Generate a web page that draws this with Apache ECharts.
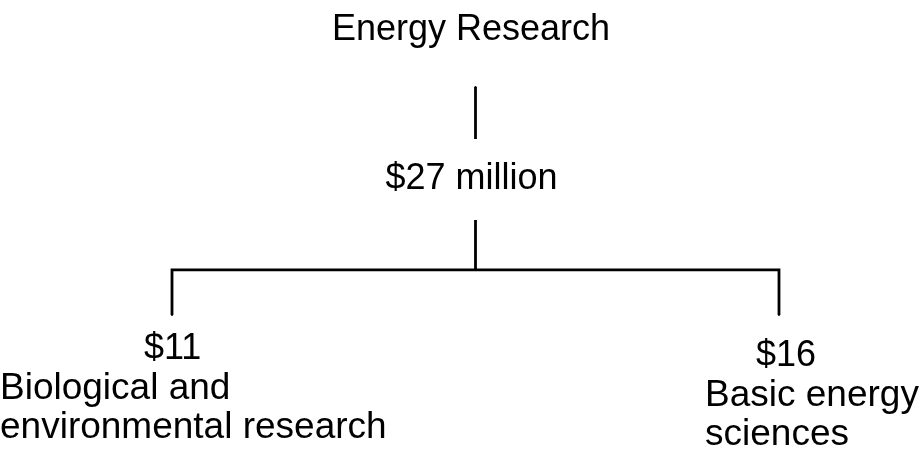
<!DOCTYPE html>
<html>
<head>
<meta charset="utf-8">
<script src="https://cdn.jsdelivr.net/npm/echarts@6/dist/echarts.min.js"></script>
<style>
  html, body { margin: 0; padding: 0; background: #fff; }
  #chart { width: 924px; height: 462px; }
</style>
</head>
<body>
<div id="chart"></div>
<script>
// ---- data ----
const rootName = 'Energy Research';
const totalValue = 27;
const totalUnit = 'million';
const categories = ['Biological and\nenvironmental research', 'Basic energy\nsciences'];
const values = [11, 16];

// ---- styles ----
const FONT = '"Liberation Sans", Arial, Helvetica, sans-serif';
const leafLabelStyles = [
  { distance: 13.5, offset: [-172, 0], pad: 144 },
  { distance: 20, offset: [-74, 0], pad: 51 }
];

function leafFormatter(p) {
  const lines = p.name.split('\n').map(s => '{t|' + s + '}');
  return '{v|$' + p.value + '}\n' + lines.join('\n');
}

const treeData = [{
  name: rootName,
  label: {
    position: 'top', distance: 37.5, offset: [-4.5, 0],
    formatter: '{a|{b}}',
    rich: { a: { fontSize: 36, lineHeight: 36, fontFamily: FONT, color: '#000' } }
  },
  children: [{
    name: '$' + totalValue + ' ' + totalUnit,
    value: totalValue,
    label: {
      position: 'inside', offset: [-4, -21.5],
      formatter: '{b}',
      fontSize: 36, lineHeight: 36, fontFamily: FONT, color: '#000',
      backgroundColor: '#fff',
      padding: [18.5, 12, 26.5, 12]
    },
    children: categories.map((c, i) => ({
      name: c,
      value: values[i],
      label: {
        position: 'bottom',
        distance: leafLabelStyles[i].distance,
        offset: leafLabelStyles[i].offset,
        align: 'left',
        verticalAlign: 'top',
        formatter: leafFormatter,
        rich: {
          v: { fontSize: 36, lineHeight: 40, fontFamily: FONT, color: '#000', padding: [0, 0, 0, leafLabelStyles[i].pad] },
          t: { fontSize: 37, lineHeight: 39, fontFamily: FONT, color: '#000' }
        }
      }
    }))
  }]
}];

const chart = echarts.init(document.getElementById('chart'), null, { renderer: 'canvas' });
chart.setOption({
  backgroundColor: '#fff',
  animation: false,
  series: [{
    type: 'tree',
    orient: 'TB',
    layout: 'orthogonal',
    data: treeData,
    left: -131.5,
    width: 1214,
    top: 87,
    height: 228,
    roam: false,
    expandAndCollapse: false,
    initialTreeDepth: -1,
    symbol: 'circle',
    symbolSize: 2,
    itemStyle: { color: '#000', borderWidth: 0 },
    edgeShape: 'polyline',
    edgeForkPosition: '60.5%',
    lineStyle: { color: '#000', width: 2.8, curveness: 0 },
    emphasis: { disabled: true },
    tooltip: { show: false }
  }]
});
</script>
</body>
</html>
